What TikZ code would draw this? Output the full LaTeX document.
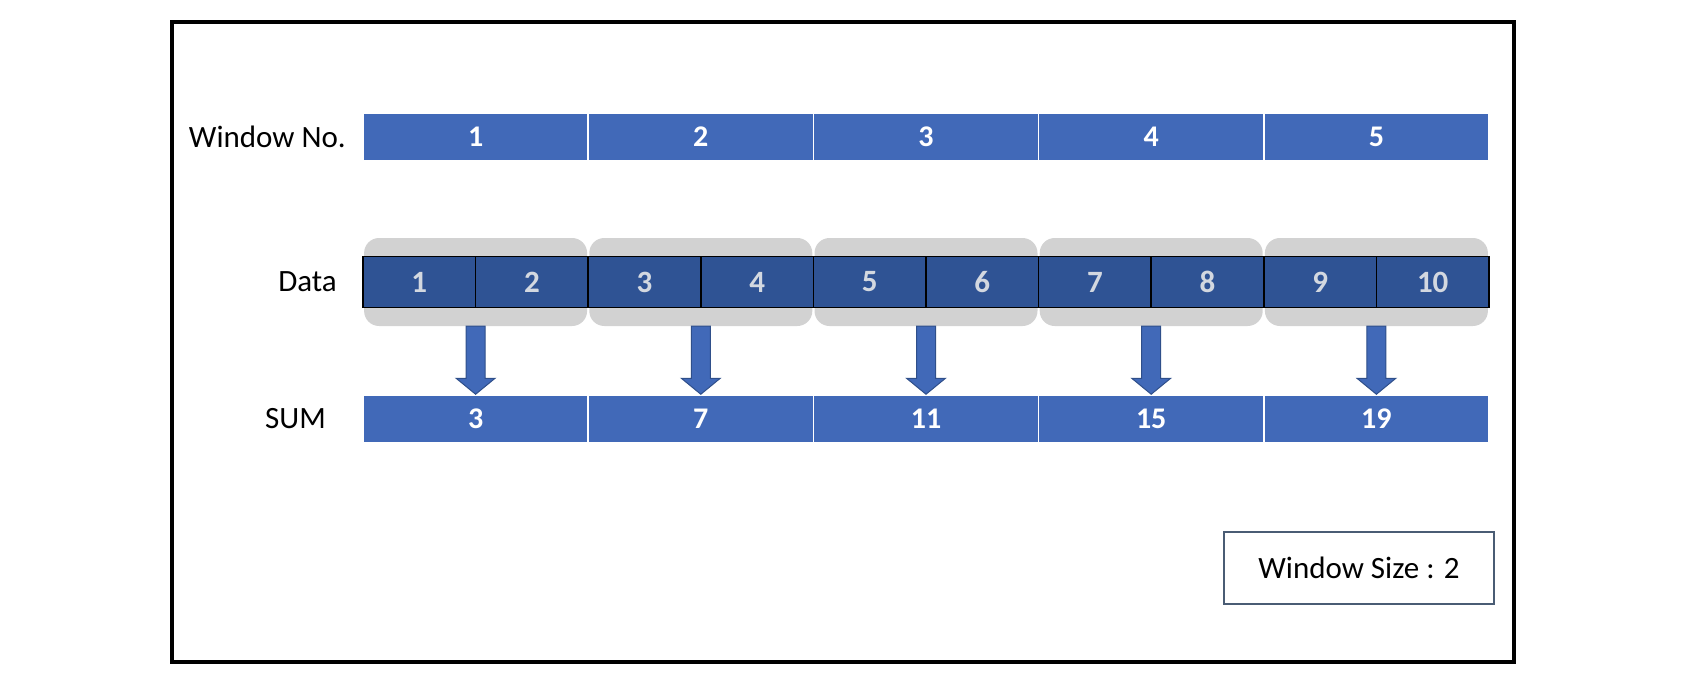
\documentclass[tikz,border=0pt]{standalone}
\usepackage{fontspec}
\setmainfont{Carlito}
\usetikzlibrary{calc}
\definecolor{winblue}{HTML}{4169B8}
\definecolor{datablue}{HTML}{2F5394}
\definecolor{graybg}{HTML}{D2D2D2}
\definecolor{numgray}{HTML}{D3D8E0}
\definecolor{arrowline}{HTML}{2F4F8A}
\definecolor{boxline}{HTML}{4A5C74}
\tikzset{
  wincell/.style={draw=white, line width=1.5pt, fill=winblue, minimum width=225.2pt, minimum height=48pt, inner sep=0pt, text=white, font=\fontsize{30}{36}\selectfont\bfseries},
  datacell/.style={draw=black, line width=1.5pt, fill=datablue, minimum width=112.6pt, minimum height=51pt, inner sep=0pt, text=numgray, font=\fontsize{31}{36}\selectfont\bfseries},
  graygroup/.style={fill=graybg, rounded corners=15pt, minimum width=223pt, minimum height=88pt, inner sep=0pt},
  blockarrow/.style={fill=winblue, draw=arrowline, line width=1pt, line join=miter},
  rowlabel/.style={anchor=east, inner sep=0pt, font=\fontsize{31}{38}\selectfont},
  sizebox/.style={draw=boxline, line width=1.5pt, minimum width=270pt, minimum height=72pt, inner sep=0pt, font=\fontsize{31}{38}\selectfont}
}
\begin{document}
\begin{tikzpicture}[x=1pt,y=-1pt]
\useasboundingbox (0,0) rectangle (1706,680);
\draw[line width=3.5pt] (172,22) rectangle (1514,662);
% row labels
\node[rowlabel] (lwin) at (346,137) {Window No.};
\node[rowlabel] (ldata) at (337,282) {Data};
\node[rowlabel] (lsum) at (326,419) {SUM};
% gray groups
\foreach \i in {1,...,5} {
  \node[graygroup] (g\i) at ({363+225.2*(\i-0.5)},282) {};
}
% data cells
\foreach \j in {1,...,10} {
  \node[datacell] (d\j) at ({363+112.6*(\j-0.5)},282) {\j};
}
% window and sum cells
\foreach \i/\s in {1/3,2/7,3/11,4/15,5/19} {
  \node[wincell] (w\i) at ({363+225.2*(\i-0.5)},137) {\i};
  \node[wincell] (s\i) at ({363+225.2*(\i-0.5)},419) {\s};
}
% arrows
\foreach \i in {1,...,5} {
  \draw[blockarrow] ($(g\i.south)+(-9.5,0)$) -- ($(s\i.north)+(-9.5,-16)$) -- ($(s\i.north)+(-19.5,-16)$) -- (s\i.north) -- ($(s\i.north)+(19.5,-16)$) -- ($(s\i.north)+(9.5,-16)$) -- ($(g\i.south)+(9.5,0)$) -- cycle;
}
\node[sizebox] (ws) at (1359,568) {Window Size : 2};
\end{tikzpicture}
\end{document}
